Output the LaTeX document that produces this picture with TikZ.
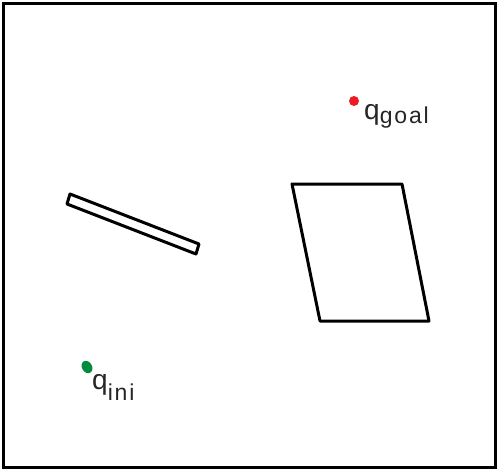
\documentclass[tikz,border=0pt]{standalone}
\usepackage{fontspec}
\setmainfont{Liberation Sans}
\definecolor{goalred}{RGB}{237,28,36}
\definecolor{inigreen}{RGB}{0,140,60}
\tikzset{
  obst/.style={draw=black, line width=3pt, line join=round},
  frame/.style={draw=black, line width=3pt},
  lbl/.style={inner sep=0pt, anchor=base west, font=\fontsize{28}{28}\selectfont, text=black!85},
}
\newcommand{\subtxt}[2]{\raisebox{#1}{\fontsize{23}{23}\selectfont\addfontfeature{LetterSpace=8} #2}}
\begin{document}
\begin{tikzpicture}[x=1pt,y=-1pt]
\useasboundingbox (0,0) rectangle (498,471);
\draw[frame] (3,3) rectangle (495,467);
\draw[obst] (70,194) -- (199,244) -- (196,254) -- (67,204) -- cycle;
\draw[obst] (292,184) -- (402,184) -- (429,321) -- (320,321) -- cycle;
\fill[goalred] (354,101) circle (5);
\fill[inigreen, rotate around={30:(87,367)}] (87,367) ellipse (5 and 6.5);
\node[lbl] (qgoal) at (364,119) {q\subtxt{-4pt}{goal}};
\node[lbl] (qini) at (92,389) {q\subtxt{-11pt}{ini}};
\end{tikzpicture}
\end{document}
